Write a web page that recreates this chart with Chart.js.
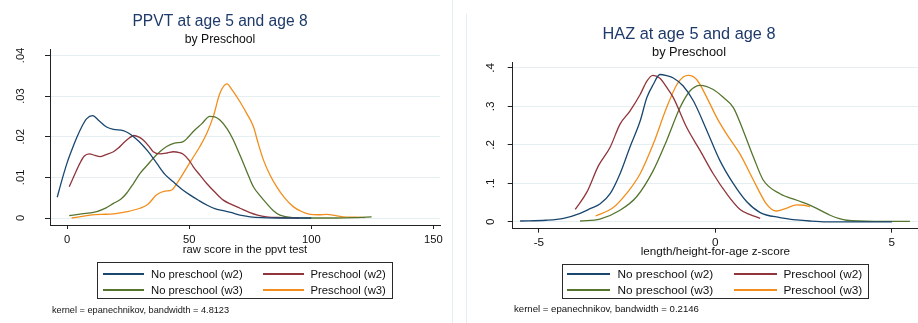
<!DOCTYPE html>
<html>
<head>
<meta charset="utf-8">
<script src="https://cdn.jsdelivr.net/npm/chart.js@4.4.1/dist/chart.umd.min.js"></script>
<style>
  body { margin: 0; background: #fff; font-family: "Liberation Sans", Arial, sans-serif; }
  #wrap { position: relative; width: 918px; height: 323px; overflow: hidden; }
  canvas { position: absolute; top: 0; }
  .sep { position: absolute; width: 1px; background: #e4eef0; }
  .legend { position: absolute; border: 1px solid #2a2a2a; box-sizing: border-box; }
  .legend .ln { position: absolute; height: 1.5px; }
  .legend .tx { position: absolute; white-space: nowrap; color: #111; line-height: 14px; }
  .note { position: absolute; white-space: nowrap; color: #111; line-height: 12px; }
</style>
</head>
<body>
<div id="wrap">
  <div class="sep" style="left:452px;top:0;height:323px;"></div>
  <div class="sep" style="left:466px;top:14px;height:309px;"></div>
  <canvas id="ppvt" width="455" height="323" style="left:0;"></canvas>
  <canvas id="haz" width="458" height="323" style="left:460px;"></canvas>
  <div class="legend" id="leg-ppvt"></div>
  <div class="legend" id="leg-haz"></div>
  <div class="note" id="note-ppvt"></div>
  <div class="note" id="note-haz"></div>
</div>
<script>
const FONT = '"Liberation Sans", Arial, sans-serif';

// series names and colours (same order in both panels)
const seriesLabels = ['No preschool (w2)', 'Preschool (w2)', 'No preschool (w3)', 'Preschool (w3)'];
const seriesColors = ['#1a476f', '#90353b', '#55752f', '#f28e1c'];

// PPVT kernel densities, [score, density]
const ppvtNoPreW2 = [[-4,0.0051],[-2,0.0095],[0,0.0135],[2,0.0168],[4,0.0198],[6,0.0224],[8,0.0244],[10.5,0.0252],[13,0.0240],[16.2,0.0224],[19,0.0218],[23,0.0215],[25.5,0.0208],[27.5,0.0199],[29.9,0.0186],[33,0.0165],[36.7,0.0135],[40,0.0108],[43.5,0.0089],[47,0.0071],[50.3,0.0057],[54,0.0043],[57.2,0.0032],[60.5,0.0023],[64,0.0018],[67.5,0.0013],[70.8,0.0007],[75,0.0003],[80,0.0001],[90,0],[100,0]];
const ppvtPreW2 = [[0.9,0.0077],[3,0.0105],[5.3,0.0135],[7,0.0152],[9.1,0.0158],[11.5,0.0154],[13.5,0.0151],[16,0.0156],[19,0.0163],[21,0.0172],[23,0.0184],[25.5,0.0197],[27.4,0.0203],[29.5,0.0199],[31.2,0.0192],[33.5,0.0177],[35.3,0.0163],[38.1,0.0158],[41,0.0160],[43.5,0.0163],[46,0.0161],[47.6,0.0157],[50,0.0142],[51.7,0.0126],[54.5,0.0105],[57.2,0.0085],[60.5,0.0064],[64,0.0044],[67.5,0.0033],[70.8,0.0024],[74.9,0.0013],[78,0.0007],[81.7,0.0003],[88,0.0001],[95,0]];
const ppvtNoPreW3 = [[0.9,0.0006],[6,0.0010],[12.2,0.0016],[16,0.0025],[19,0.0036],[22,0.0046],[24.4,0.0061],[27,0.0083],[29.9,0.0110],[33,0.0131],[35.3,0.0147],[38,0.0163],[40.8,0.0176],[44,0.0184],[47.6,0.0188],[49.5,0.0198],[51.7,0.0213],[55,0.0231],[58.5,0.0250],[60.5,0.0249],[62.6,0.0241],[65.5,0.0220],[68.1,0.0192],[70.2,0.0163],[72.2,0.0135],[74.3,0.0104],[76.3,0.0077],[79,0.0055],[81.7,0.0036],[84.5,0.0018],[87.2,0.0007],[92.6,0.0001],[100,0],[110,0],[118,0.0001],[124.7,0.0003]];
const ppvtPreW3 = [[1.9,0],[5,0.0003],[9.4,0.0007],[14,0.0009],[19,0.0010],[24,0.0015],[29.9,0.0024],[33,0.0033],[36.7,0.0057],[40,0.0066],[42.9,0.0069],[45.3,0.0088],[47.6,0.0110],[51,0.0143],[54.4,0.0176],[57.2,0.0208],[59.9,0.0250],[62.6,0.0307],[65.5,0.0330],[67.5,0.0316],[70.8,0.0286],[73.5,0.0258],[76.3,0.0225],[78.3,0.0183],[80.4,0.0143],[83,0.0107],[85.8,0.0077],[89,0.0050],[92.6,0.0028],[96,0.0016],[99.5,0.0009],[103,0.0008],[106.3,0.0009],[110,0.0006],[113.1,0.0003],[118,0.0002],[122,0.0001]];

// HAZ kernel densities, [z-score, density]
const hazNoPreW2 = [[-5.53,0.002],[-4.8,0.004],[-4.3,0.009],[-3.83,0.022],[-3.55,0.034],[-3.27,0.046],[-2.98,0.073],[-2.70,0.125],[-2.42,0.194],[-2.13,0.262],[-1.94,0.323],[-1.76,0.357],[-1.57,0.383],[-1.38,0.380],[-1.19,0.374],[-0.91,0.353],[-0.62,0.314],[-0.24,0.237],[0.13,0.159],[0.51,0.099],[0.89,0.052],[1.27,0.024],[1.83,0.011],[2.3,0.005],[2.68,0.002],[3.15,0],[4,0],[5,0]];
const hazPreW2 = [[-3.97,0.032],[-3.64,0.077],[-3.31,0.146],[-2.98,0.194],[-2.70,0.254],[-2.42,0.288],[-2.13,0.331],[-1.94,0.366],[-1.77,0.381],[-1.57,0.373],[-1.38,0.350],[-1.19,0.323],[-0.81,0.245],[-0.43,0.185],[-0.06,0.125],[0.32,0.073],[0.70,0.032],[1.0,0.018],[1.27,0.009]];
const hazNoPreW3 = [[-3.83,0.002],[-3.27,0.007],[-2.70,0.030],[-2.23,0.065],[-1.76,0.133],[-1.38,0.211],[-1.0,0.297],[-0.72,0.340],[-0.43,0.355],[-0.06,0.344],[0.23,0.323],[0.51,0.297],[0.79,0.237],[1.08,0.168],[1.36,0.108],[1.83,0.073],[2.31,0.056],[2.78,0.039],[3.25,0.017],[3.72,0.004],[4.5,0.001],[5.51,0.001]];
const hazPreW3 = [[-3.39,0.015],[-2.89,0.037],[-2.52,0.073],[-2.13,0.125],[-1.76,0.202],[-1.38,0.297],[-1.09,0.357],[-0.9,0.377],[-0.76,0.381],[-0.53,0.370],[-0.24,0.323],[0.04,0.271],[0.32,0.228],[0.70,0.176],[1.08,0.108],[1.44,0.047],[1.6,0.032],[1.73,0.028],[2.0,0.035],[2.31,0.044],[2.5,0.043],[2.68,0.039]];

// ticks
const ppvtXTicks = [0, 50, 100, 150];
const ppvtXLabels = ['0', '50', '100', '150'];
const ppvtYTicks = [0, 0.01, 0.02, 0.03, 0.04];
const ppvtYLabels = ['0', '.01', '.02', '.03', '.04'];
const hazXTicks = [-5, 0, 5];
const hazXLabels = ['-5', '0', '5'];
const hazYTicks = [0, 0.1, 0.2, 0.3, 0.4];
const hazYLabels = ['0', '.1', '.2', '.3', '.4'];

function buildChart(id, series, p) {
  const f = size => ({ family: FONT, size: size, weight: 'normal', lineHeight: 1.2 });
  return new Chart(document.getElementById(id), {
    type: 'line',
    data: {
      datasets: series.map((pts, i) => ({
        label: seriesLabels[i],
        data: pts.map(([x, y]) => ({ x, y })),
        borderColor: seriesColors[i],
        backgroundColor: seriesColors[i],
        borderWidth: 1.3,
        pointRadius: 0,
        cubicInterpolationMode: 'monotone',
        fill: false
      }))
    },
    options: {
      responsive: false,
      animation: false,
      events: [],
      layout: { padding: { left: 0, right: p.padRight, top: 0, bottom: p.padBottom } },
      plugins: {
        legend: { display: false },
        tooltip: { enabled: false },
        title: {
          display: true, text: p.title, color: '#1e3a6a', font: f(p.titleSize),
          padding: { top: p.titleTop, bottom: p.titleBottom }
        },
        subtitle: {
          display: true, text: 'by Preschool', color: '#111', font: f(p.subSize),
          padding: { top: 0, bottom: p.subBottom }
        }
      },
      scales: {
        x: {
          type: 'linear', min: p.xMin, max: p.xMax,
          afterBuildTicks: s => { s.ticks = p.xTicks.map(v => ({ value: v })); },
          afterFit: s => { s.height = p.xHeight; },
          grid: { drawOnChartArea: false, tickLength: 4, tickColor: '#222' },
          border: { color: '#222', width: 1 },
          ticks: { color: '#111', font: f(p.tickSize), padding: p.xPad, maxRotation: 0, autoSkip: false,
                   callback: (v, i) => p.xLabels[i] },
          title: { display: true, text: p.xTitle, color: '#111', font: f(p.tickSize),
                   padding: { top: 0, bottom: p.xTitleBottom } }
        },
        y: {
          type: 'linear', min: p.yMin, max: p.yMax,
          afterBuildTicks: s => { s.ticks = p.yTicks.map(v => ({ value: v })); },
          afterFit: s => { s.width = p.yWidth; },
          grid: { color: '#e5eef0', lineWidth: 1, tickLength: 5, tickColor: '#222' },
          border: { color: '#222', width: 1 },
          ticks: { color: '#111', font: f(p.tickSize), padding: p.yPad, minRotation: 90, maxRotation: 90,
                   crossAlign: 'center', autoSkip: false, callback: (v, i) => p.yLabels[i] }
        }
      }
    }
  });
}

buildChart('ppvt', [ppvtNoPreW2, ppvtPreW2, ppvtNoPreW3, ppvtPreW3], {
  title: 'PPVT at age 5 and age 8', titleSize: 15.6, subSize: 12.2, tickSize: 11.2,
  titleTop: 12, titleBottom: 2, subBottom: 2.4,
  xTitle: 'raw score in the ppvt test', xHeight: 35, xTitleBottom: 3.4, xPad: 4,
  padRight: 15, padBottom: 63, yWidth: 50, yPad: 16,
  xMin: -6.96, xMax: 152.7, yMin: -0.00172, yMax: 0.0414,
  xTicks: ppvtXTicks, xLabels: ppvtXLabels, yTicks: ppvtYTicks, yLabels: ppvtYLabels
});

buildChart('haz', [hazNoPreW2, hazPreW2, hazNoPreW3, hazPreW3], {
  title: 'HAZ at age 5 and age 8', titleSize: 16.3, subSize: 12.8, tickSize: 11.7,
  titleTop: 24.4, titleBottom: 0.9, subBottom: 1.8,
  xTitle: 'length/height-for-age z-score', xHeight: 33, xTitleBottom: 3.1, xPad: 3,
  padRight: 0, padBottom: 61.3, yWidth: 52.7, yPad: 12.4,
  xMin: -5.74, xMax: 5.74, yMin: -0.018, yMax: 0.4155,
  xTicks: hazXTicks, xLabels: hazXLabels, yTicks: hazYTicks, yLabels: hazYLabels
});

// Stata-style boxed legend, two columns
function buildLegend(id, L) {
  const el = document.getElementById(id);
  Object.assign(el.style, { left: L.left + 'px', top: L.top + 'px', width: L.width + 'px', height: L.height + 'px' });
  let html = '';
  seriesLabels.forEach((label, i) => {
    const col = i % 2, row = Math.floor(i / 2);
    const y = L.rows[row];
    html += `<div class="ln" style="left:${L.lineX[col]}px;top:${y - 0.75}px;width:${L.lineW}px;background:${seriesColors[i]};"></div>`;
    html += `<div class="tx" style="left:${L.textX[col]}px;top:${y - 7.5}px;font-size:${L.size}px;">${label}</div>`;
  });
  el.innerHTML = html;
}

buildLegend('leg-ppvt', { left: 97, top: 262, width: 296, height: 37, rows: [11, 27], lineX: [4.5, 164.5], lineW: 41, textX: [53, 212.5], size: 11.3 });
buildLegend('leg-haz', { left: 562, top: 264, width: 307, height: 35, rows: [9, 25], lineX: [4, 171], lineW: 43, textX: [54.5, 220.5], size: 11.8 });

const notePpvt = document.getElementById('note-ppvt');
notePpvt.textContent = 'kernel = epanechnikov, bandwidth = 4.8123';
Object.assign(notePpvt.style, { left: '52px', top: '304px', fontSize: '9.2px' });
const noteHaz = document.getElementById('note-haz');
noteHaz.textContent = 'kernel = epanechnikov, bandwidth = 0.2146';
Object.assign(noteHaz.style, { left: '514px', top: '302.7px', fontSize: '9.6px' });
</script>
</body>
</html>
